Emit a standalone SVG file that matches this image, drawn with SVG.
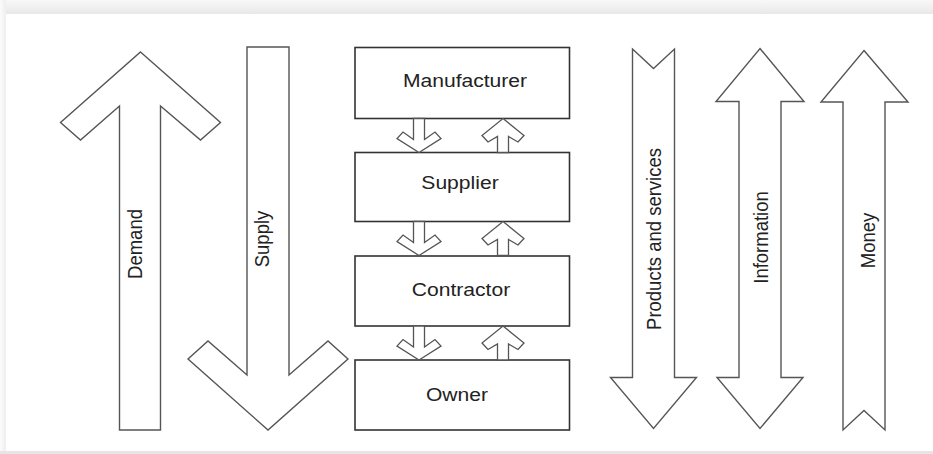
<svg xmlns="http://www.w3.org/2000/svg" width="933" height="454" viewBox="0 0 933 454">
  <defs>
    <linearGradient id="topShade" x1="0" y1="0" x2="0" y2="1">
      <stop offset="0" stop-color="#f8f8f8"/>
      <stop offset="1" stop-color="#e8e8e8"/>
    </linearGradient>
    <linearGradient id="leftShade" x1="0" y1="0" x2="1" y2="0">
      <stop offset="0" stop-color="#fbfbfb"/>
      <stop offset="1" stop-color="#eeeeee"/>
    </linearGradient>
    <!-- small hollow arrows between the stacked boxes (34 px tall) -->
    <polygon id="smallDown" points="-5.5,0 -5.5,21 -16,13.5 -22,20 0,34 22,20 16,13.5 5.5,21 5.5,0"/>
    <polygon id="smallUp" points="0,0 21,17 15,23.5 5.5,18 5.5,34 -5.5,34 -5.5,18 -15,23.5 -21,17"/>
  </defs>
  <style>
    .big { fill: #ffffff; stroke: #555555; stroke-width: 1.4; stroke-linejoin: miter; }
    .box { fill: #ffffff; stroke: #333333; stroke-width: 1.6; }
    .flow { fill: #ffffff; stroke: #555555; stroke-width: 1.3; }
    .lbl { font-family: "Liberation Sans", Arial, sans-serif; font-size: 18.5px; fill: #222222; text-anchor: middle; }
  </style>

  <!-- page background with soft frame -->
  <rect x="0" y="0" width="933" height="454" fill="#ffffff"/>
  <rect x="0" y="0" width="933" height="14" fill="url(#topShade)"/>
  <rect x="0" y="0" width="6" height="454" fill="url(#leftShade)"/>
  <rect x="0" y="451" width="933" height="3" fill="#e6e6e6"/>

  <!-- Demand: upward arrow -->
  <g id="demand">
    <polygon class="big" points="140.5,52 220.5,122.5 200.5,140 160.5,106 160.5,430 119.5,430 119.5,106 80.5,140 60.5,122.5"/>
    <text class="lbl" transform="translate(141.5,244) rotate(-90) scale(1,1.14)">Demand</text>
  </g>

  <!-- Supply: downward arrow -->
  <g id="supply">
    <polygon class="big" points="247,47 289,47 289,375 328,341 348,359 268,430 188,359 208,341 247,375"/>
    <text class="lbl" transform="translate(268.5,239) rotate(-90) scale(1,1.14)">Supply</text>
  </g>

  <!-- supply chain boxes -->
  <g id="manufacturer">
    <rect class="box" x="355" y="47.5" width="214.5" height="71"/>
    <text class="lbl" transform="translate(465,86.7) scale(1.14,1)">Manufacturer</text>
  </g>
  <g id="supplier">
    <rect class="box" x="355" y="152.5" width="214.5" height="69"/>
    <text class="lbl" transform="translate(460,189.3) scale(1.14,1)">Supplier</text>
  </g>
  <g id="contractor">
    <rect class="box" x="355" y="256" width="214.5" height="70"/>
    <text class="lbl" transform="translate(461,296) scale(1.14,1)">Contractor</text>
  </g>
  <g id="owner">
    <rect class="box" x="355" y="360" width="214.5" height="70"/>
    <text class="lbl" transform="translate(457,400.7) scale(1.14,1)">Owner</text>
  </g>

  <!-- flows between neighbouring boxes -->
  <g id="connectors">
    <use href="#smallDown" class="flow" x="419" y="118.5"/>
    <use href="#smallUp" class="flow" x="503" y="118.5"/>
    <use href="#smallDown" class="flow" x="419" y="221.5"/>
    <use href="#smallUp" class="flow" x="503" y="221.5"/>
    <use href="#smallDown" class="flow" x="419" y="326"/>
    <use href="#smallUp" class="flow" x="503" y="326"/>
  </g>

  <!-- Products and services: notched tail, downward head -->
  <g id="products">
    <polygon class="big" points="632.5,49 653.5,68.5 674.5,49 674.5,377.5 696.5,377.5 653.5,428.5 610.5,377.5 632.5,377.5"/>
    <text class="lbl" transform="translate(660.5,239) rotate(-90) scale(1,1.14)">Products and services</text>
  </g>

  <!-- Information: double-headed arrow -->
  <g id="information">
    <polygon class="big" points="760,48.5 804,101.5 781,101.5 781,377.5 803,377.5 760,428.5 717,377.5 739,377.5 739,101.5 716,101.5"/>
    <text class="lbl" transform="translate(768,237.5) rotate(-90) scale(1,1.14)">Information</text>
  </g>

  <!-- Money: upward head, notched tail -->
  <g id="money">
    <polygon class="big" points="864,50.5 908,102 885,102 885,430 864,410.5 843,430 843,102 821,102"/>
    <text class="lbl" transform="translate(875,240.5) rotate(-90) scale(1,1.14)">Money</text>
  </g>
</svg>
